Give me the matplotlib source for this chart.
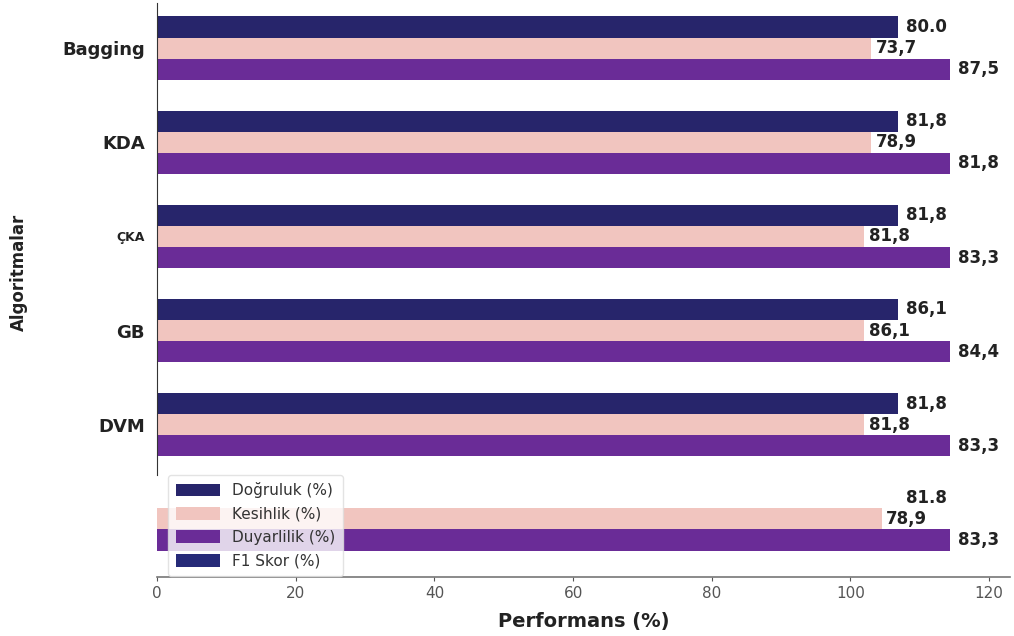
import numpy as np
import matplotlib.pyplot as plt
from matplotlib.patches import Patch

algoritmalar = ['Bagging', 'KDA', 'ÇKA', 'GB', 'DVM', '']

# bar lengths as drawn in the picture
dogruluk = [106.8, 106.8, 106.8, 106.8, 106.8, 106.8]
kesinlik = [103.0, 103.0, 102.0, 102.0, 102.0, 104.5]
duyarlilik = [114.3, 114.3, 114.3, 114.3, 114.3, 114.3]
dogruluk_goster = [True, True, True, True, True, False]

# value labels as printed
dogruluk_etiket = ['80.0', '81,8', '81,8', '86,1', '81,8', '81.8']
kesinlik_etiket = ['73,7', '78,9', '81,8', '86,1', '81,8', '78,9']
duyarlilik_etiket = ['87,5', '81,8', '83,3', '84,4', '83,3', '83,3']

seri_adlari = ['Doğruluk (%)', 'Kesihlik (%)', 'Duyarlilik (%)', 'F1 Skor (%)']
renkler = ['#27256b', '#f1c5bf', '#6a2c97', '#262a78']

fig = plt.figure(figsize=(10.14, 6.36), dpi=100)
ax = fig.add_axes([0.155, 0.093, 0.841, 0.902])

y = np.arange(len(algoritmalar))
h = 0.225

d_vals = [v if g else np.nan for v, g in zip(dogruluk, dogruluk_goster)]
ax.barh(y - h, d_vals, height=h, color=renkler[0])
ax.barh(y, kesinlik, height=h, color=renkler[1])
ax.barh(y + h, duyarlilik, height=h, color=renkler[2])

lbl = dict(fontsize=12, fontweight='bold', color='#222222', va='center', ha='left')
for i in range(len(algoritmalar)):
    ax.text(dogruluk[i] + 1.2, y[i] - h, dogruluk_etiket[i], **lbl)
    ax.text(kesinlik[i] + 0.6, y[i], kesinlik_etiket[i], **lbl)
    ax.text(duyarlilik[i] + 1.2, y[i] + h, duyarlilik_etiket[i], **lbl)

ax.set_xlim(0, 123)
ax.set_ylim(5.616, -0.478)
ax.set_yticks(y)
ax.set_yticklabels(algoritmalar, fontsize=13, fontweight='bold', color='#222222')
ax.get_yticklabels()[2].set_fontsize(9)
ax.tick_params(axis='y', length=0, pad=9)
ax.set_xticks([0, 20, 40, 60, 80, 100, 120])
ax.tick_params(axis='x', labelsize=11, colors='#555555', length=3, width=0.8)

for s in ['top', 'right']:
    ax.spines[s].set_visible(False)
ax.spines['left'].set_bounds(-0.478, 4.53)
ax.spines['left'].set_color('#333333')
ax.spines['bottom'].set_color('#777777')
ax.spines['bottom'].set_linewidth(1.2)

ax.set_xlabel('Performans (%)', fontsize=14, fontweight='bold', color='#222222', labelpad=8)
ax.set_ylabel('Algoritmalar', fontsize=12, fontweight='bold', color='#222222')
ax.yaxis.set_label_coords(-0.152, 0.53)

handles = [Patch(facecolor=c) for c in renkler]
leg = ax.legend(handles, seri_adlari, loc='lower left', bbox_to_anchor=(0.004, -0.012),
                fontsize=11, handlelength=2.9, handleheight=0.9, labelspacing=0.55,
                frameon=True, framealpha=0.8, edgecolor='#dddddd', borderpad=0.5)
for t in leg.get_texts():
    t.set_color('#333333')
leg.set_zorder(5)

fig.savefig('out.png', dpi=100)
